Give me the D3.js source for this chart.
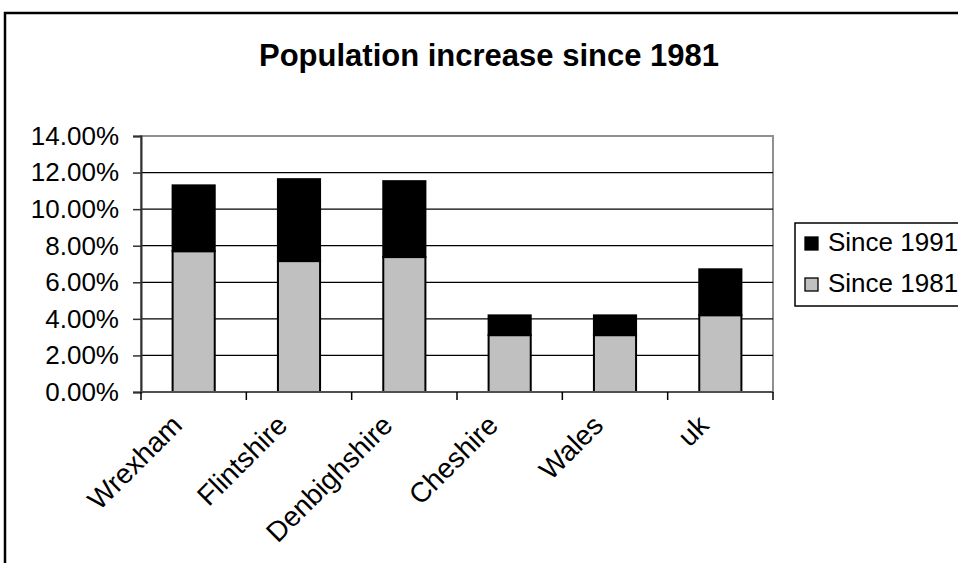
<!DOCTYPE html>
<html>
<head>
<meta charset="utf-8">
<script src="https://cdn.jsdelivr.net/npm/d3@7"></script>
<style>
  html, body { margin: 0; padding: 0; background: #fff; }
  svg { display: block; }
  text { font-family: "Liberation Sans", Arial, sans-serif; fill: #000; }
</style>
</head>
<body>
<svg id="chart" width="958" height="563"></svg>
<script>
// Population growth by area, stacked: growth since 1981 at the base, since 1991 on top
const categories = ["Wrexham", "Flintshire", "Denbighshire", "Cheshire", "Wales", "uk"];
const since1981 = [0.0770, 0.0716, 0.0738, 0.0311, 0.0311, 0.0420];
const since1991 = [0.0360, 0.0448, 0.0415, 0.0108, 0.0108, 0.0251];
const yTicks = [0, 0.02, 0.04, 0.06, 0.08, 0.10, 0.12, 0.14];
const seriesNames = ["Since 1981", "Since 1991"];
const seriesColors = { "Since 1981": "#c0c0c0", "Since 1991": "#000000" };

const rows = categories.map((c, i) => ({
  category: c,
  "Since 1981": since1981[i],
  "Since 1991": since1991[i]
}));

const svg = d3.select("#chart");
const plot = { left: 141, right: 773, top: 136, bottom: 392 };

// outer chart frame
svg.append("rect")
  .attr("x", 5).attr("y", 13)
  .attr("width", 1000).attr("height", 600)
  .attr("fill", "#fff").attr("stroke", "#000").attr("stroke-width", 2.5);

// title
svg.append("text")
  .attr("x", 489).attr("y", 66)
  .attr("text-anchor", "middle")
  .style("font-size", "31px").style("font-weight", "bold")
  .text("Population increase since 1981");

const x = d3.scaleBand()
  .domain(categories)
  .range([plot.left, plot.right])
  .paddingInner(0.6)
  .paddingOuter(0.3);

const y = d3.scaleLinear()
  .domain([0, 0.14])
  .range([plot.bottom, plot.top]);

// plot area frame
svg.append("rect")
  .attr("x", plot.left).attr("y", plot.top)
  .attr("width", plot.right - plot.left).attr("height", plot.bottom - plot.top)
  .attr("fill", "#fff").attr("stroke", "#909090").attr("stroke-width", 2);

// horizontal gridlines
svg.append("g")
  .selectAll("line")
  .data(yTicks.filter(t => t > 0 && t < 0.14))
  .join("line")
  .attr("x1", plot.left).attr("x2", plot.right)
  .attr("y1", d => y(d)).attr("y2", d => y(d))
  .attr("stroke", "#000").attr("stroke-width", 1.3);

// stacked bars
const stacked = d3.stack().keys(seriesNames)(rows);
svg.append("g")
  .selectAll("g")
  .data(stacked)
  .join("g")
  .attr("fill", d => seriesColors[d.key])
  .selectAll("rect")
  .data(d => d)
  .join("rect")
  .attr("x", d => x(d.data.category))
  .attr("width", x.bandwidth())
  .attr("y", d => y(d[1]))
  .attr("height", d => y(d[0]) - y(d[1]))
  .attr("stroke", "#000").attr("stroke-width", 2);

// value axis
const yAxis = svg.append("g")
  .attr("transform", `translate(${plot.left},0)`)
  .call(d3.axisLeft(y).tickValues(yTicks).tickFormat(d3.format(".2%"))
    .tickSize(8).tickPadding(14));
yAxis.select(".domain").attr("stroke", "#303030").attr("stroke-width", 2);
yAxis.selectAll(".tick line").attr("stroke", "#303030").attr("stroke-width", 1.5);
yAxis.selectAll("text")
  .style("font-size", "26px")
  .attr("fill", "#000");

// category axis: baseline, boundary ticks and rotated labels
const step = x.step();
const edges = d3.range(categories.length + 1).map(i => plot.left + i * step);
const xAxis = svg.append("g");
xAxis.append("line")
  .attr("x1", plot.left).attr("x2", plot.right)
  .attr("y1", y(0)).attr("y2", y(0))
  .attr("stroke", "#505050").attr("stroke-width", 2);
xAxis.selectAll("line.tick")
  .data(edges)
  .join("line")
  .attr("class", "tick")
  .attr("x1", d => d).attr("x2", d => d)
  .attr("y1", y(0)).attr("y2", y(0) + 8)
  .attr("stroke", "#000").attr("stroke-width", 1.5);
xAxis.selectAll("text")
  .data(categories)
  .join("text")
  .attr("text-anchor", "end")
  .attr("transform", d => `translate(${x(d) + x.bandwidth() / 2 - 10},${y(0) + 35}) rotate(-45)`)
  .style("font-size", "28px")
  .text(d => d);

// legend
const legend = svg.append("g");
legend.append("rect")
  .attr("x", 795).attr("y", 223)
  .attr("width", 200).attr("height", 83)
  .attr("fill", "#fff").attr("stroke", "#000").attr("stroke-width", 1.5);
const legendItems = ["Since 1991", "Since 1981"];
const li = legend.selectAll("g.item")
  .data(legendItems)
  .join("g")
  .attr("class", "item")
  .attr("transform", (d, i) => `translate(0,${251 + i * 41})`);
li.append("rect")
  .attr("x", 805).attr("y", -14)
  .attr("width", 13).attr("height", 13)
  .attr("fill", d => seriesColors[d])
  .attr("stroke", "#000").attr("stroke-width", 1.3);
li.append("text")
  .attr("x", 828).attr("y", 0)
  .style("font-size", "26px")
  .text(d => d);
</script>
</body>
</html>
